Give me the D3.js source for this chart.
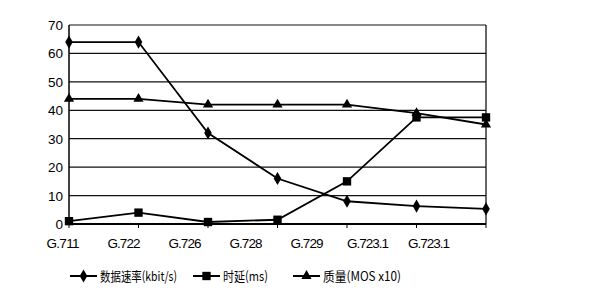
<!DOCTYPE html>
<meta charset="utf-8">
<style>
body { margin: 0; background: #fff; }
svg { display: block; }
.grid line { stroke: #111; stroke-width: 1.2px; }
.series path { fill: none; stroke: #000; stroke-width: 1.8px; }
text { font-family: "Liberation Sans", Arial, sans-serif; fill: #000; }
</style>
<svg width="590" height="297"></svg>
<script src="https://d3js.org/d3.v7.min.js"></script>
<script>

var codecs = ["G.711", "G.722", "G.726", "G.728", "G.729", "G.723.1", "G.723.1"];
var rate = [64, 64, 32, 16, 8, 6.3, 5.3];
var delay = [1, 4, 0.7, 1.5, 15, 37.5, 37.5];
var quality = [44, 44, 42, 42, 42, 39, 35];
var yTicks = [0, 10, 20, 30, 40, 50, 60, 70];
var legendNames = ["数据速率(kbit/s)", "时延(ms)", "质量(MOS x10)"];

var svg = d3.select("svg");

var idx = d3.range(codecs.length);
var x = d3.scalePoint().domain(idx).range([69, 486]);
// category labels in the source sit left of the points
var xLab = d3.scalePoint().domain(idx).range([63, 429]);
var y = d3.scaleLinear().domain([0, 70]).range([224, 25]);

// gridlines
svg.append("g").attr("class", "grid")
  .selectAll("line").data(yTicks).enter().append("line")
    .attr("x1", 69).attr("x2", 486)
    .attr("y1", d => y(d)).attr("y2", d => y(d));

// frame
svg.append("line").attr("x1", 69).attr("x2", 69).attr("y1", y(70)).attr("y2", y(0))
  .attr("stroke", "#000").attr("stroke-width", 1.5);
svg.append("line").attr("x1", 486).attr("x2", 486).attr("y1", y(70)).attr("y2", y(0))
  .attr("stroke", "#000").attr("stroke-width", 1.2);
svg.append("line").attr("x1", 69).attr("x2", 486).attr("y1", y(0)).attr("y2", y(0))
  .attr("stroke", "#000").attr("stroke-width", 2);

// x ticks
svg.append("g").selectAll("line").data(idx).enter().append("line")
  .attr("x1", d => x(d)).attr("x2", d => x(d))
  .attr("y1", y(0)).attr("y2", y(0) + 4)
  .attr("stroke", "#000");

// y labels
svg.append("g").selectAll("text").data(yTicks).enter().append("text")
  .attr("x", 63).attr("y", d => y(d) + 5)
  .attr("text-anchor", "end")
  .attr("font-size", 13.5)
  .text(d => d);

// x labels
svg.append("g").selectAll("text").data(idx).enter().append("text")
  .attr("x", d => xLab(d)).attr("y", 248)
  .attr("text-anchor", "middle")
  .attr("font-size", 13.5)
  .attr("textLength", d => codecs[d].length > 5 ? 42 : 33)
  .text(d => codecs[d]);

var line = d3.line()
  .x((d, i) => x(i))
  .y(d => y(d));

var series = [
  { vals: rate, sym: d3.symbolDiamond, size: 50 },
  { vals: delay, sym: d3.symbolSquare, size: 70 },
  { vals: quality, sym: d3.symbolTriangle, size: 45 }
];

var sg = svg.append("g").attr("class", "series");
series.forEach(function(s) {
  sg.append("path").attr("d", line(s.vals));
  sg.selectAll(null).data(s.vals).enter().append("path")
    .attr("transform", (d, i) => "translate(" + x(i) + "," + y(d) + ")")
    .attr("d", d3.symbol().type(s.sym).size(s.size))
    .style("fill", "#000").style("stroke", "none");
});

// legend
var legX = [70, 193, 293];
var legW = [77, 45, 78];
var lg = svg.append("g");
series.forEach(function(s, i) {
  var g = lg.append("g").attr("transform", "translate(" + legX[i] + ",276)");
  g.append("line").attr("x1", 0).attr("x2", 27).attr("stroke", "#000").attr("stroke-width", 2);
  g.append("path").attr("transform", "translate(13.5,0)")
    .attr("d", d3.symbol().type(s.sym).size(s.size)).attr("fill", "#000");
  g.append("text").attr("x", 30).attr("y", 5)
    .attr("font-size", 13)
    .attr("textLength", legW[i])
    .attr("lengthAdjust", "spacingAndGlyphs")
    .style("font-family", "'Noto Sans CJK SC', sans-serif")
    .text(legendNames[i]);
});

</script>
